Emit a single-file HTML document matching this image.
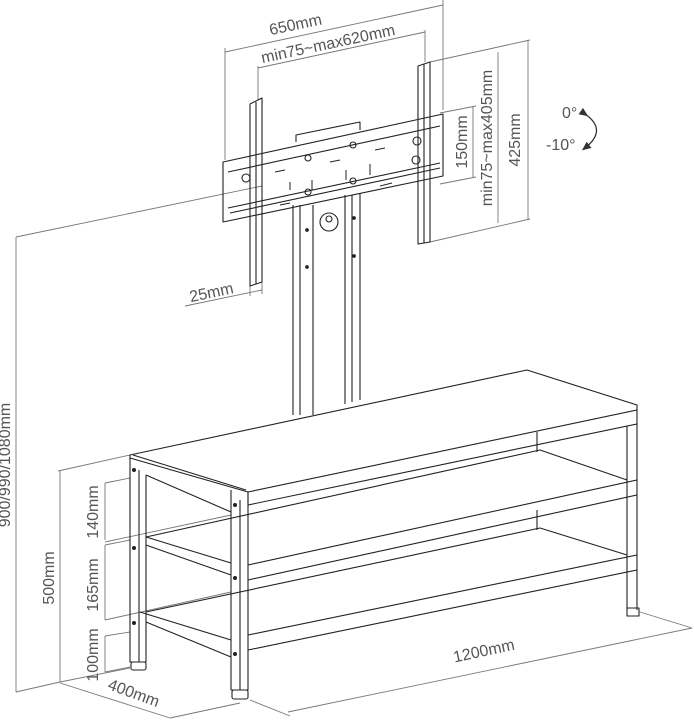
<!DOCTYPE html>
<html><head><meta charset="utf-8"><style>
html,body{margin:0;padding:0;background:#fff}
svg{display:block}
text{font-family:"Liberation Sans",sans-serif;font-size:16px;fill:#555}
</style></head><body>
<svg width="694" height="720" viewBox="0 0 694 720" xmlns="http://www.w3.org/2000/svg">
<defs>
<marker id="ah" markerWidth="8" markerHeight="8" refX="4" refY="4" orient="auto"><path d="M0,1 L7,4 L0,7 z" fill="#333"/></marker>
</defs>
<g stroke="#777" stroke-width="0.9" fill="none">
<line x1="225" y1="160" x2="225" y2="48"/><line x1="443" y1="110" x2="443" y2="0"/>
<line x1="225" y1="52" x2="443" y2="5"/>
<line x1="258" y1="100" x2="258" y2="66"/><line x1="425" y1="62" x2="425" y2="30"/>
<line x1="258" y1="68" x2="425" y2="32"/>
<line x1="430" y1="62" x2="530" y2="40"/><line x1="430" y1="242" x2="530" y2="219"/>
<line x1="528" y1="41" x2="528" y2="220"/>
<line x1="498" y1="52" x2="498" y2="223"/>
<line x1="440" y1="113" x2="476" y2="106"/><line x1="440" y1="184" x2="476" y2="177"/>
<line x1="473" y1="107" x2="473" y2="177"/>
<line x1="185" y1="306" x2="262" y2="290"/><line x1="250" y1="280" x2="250" y2="296"/><line x1="262" y1="280" x2="262" y2="294"/>
<line x1="16" y1="237" x2="16" y2="692"/><line x1="16" y1="237" x2="262" y2="186"/>
<line x1="16" y1="692" x2="60" y2="682"/>
<line x1="60" y1="471" x2="60" y2="682"/><line x1="58" y1="471" x2="130" y2="455"/><line x1="60" y1="682" x2="130" y2="668"/>
<line x1="105" y1="483" x2="105" y2="540"/><line x1="105" y1="545" x2="105" y2="620"/><line x1="105" y1="636" x2="105" y2="672"/>
<line x1="105" y1="483" x2="130" y2="478"/><line x1="105" y1="542" x2="231" y2="515"/><line x1="105" y1="545" x2="130" y2="540"/>
<line x1="105" y1="620" x2="231" y2="592"/><line x1="105" y1="636" x2="130" y2="632"/><line x1="105" y1="672" x2="130" y2="667"/>
<line x1="60" y1="683" x2="170" y2="718"/><line x1="170" y1="718" x2="240" y2="703"/>
<line x1="250" y1="700" x2="290" y2="716"/><line x1="288" y1="712" x2="692" y2="628"/><line x1="640" y1="612" x2="692" y2="628"/>
</g>
<path d="M585,114 Q608,130 585,148" stroke="#333" stroke-width="1.3" fill="none" marker-start="url(#ah)" marker-end="url(#ah)"/>
<g stroke="#222" stroke-width="1.1" fill="none" stroke-linejoin="round">
<line x1="293" y1="205" x2="293" y2="415"/><line x1="300" y1="205" x2="300" y2="415"/><line x1="313" y1="205" x2="313" y2="415"/>
<line x1="345" y1="195" x2="345" y2="404"/><line x1="352" y1="195" x2="352" y2="402"/><line x1="360" y1="193" x2="360" y2="400"/>
<circle cx="329" cy="222" r="9"/><circle cx="329" cy="219" r="3"/>
<circle cx="307" cy="230" r="1.3" fill="#222"/><circle cx="354" cy="218" r="1.3" fill="#222"/><circle cx="307" cy="267" r="1.3" fill="#222"/><circle cx="354" cy="256" r="1.3" fill="#222"/>
<path d="M223,162 L443,114 L443,176 L223,222 z"/>
<path d="M228,172 L440,126"/><path d="M228,208 L440,163"/><path d="M230,213 L440,168"/>
<path d="M296,142 L296,135 L360,122 L360,130"/>
<g stroke-width="1">
<line x1="290" y1="182" x2="290" y2="190"/><line x1="312" y1="180" x2="312" y2="190"/><line x1="346" y1="170" x2="346" y2="180"/><line x1="370" y1="164" x2="370" y2="175"/>
<line x1="275" y1="172" x2="285" y2="170"/><line x1="375" y1="150" x2="385" y2="148"/><line x1="330" y1="162" x2="340" y2="160"/><line x1="280" y1="205" x2="290" y2="203"/><line x1="380" y1="186" x2="392" y2="183"/>
</g>
<circle cx="308" cy="158" r="3"/><circle cx="353" cy="145" r="3"/><circle cx="308" cy="192" r="3"/><circle cx="353" cy="181" r="3"/>
<circle cx="246" cy="178" r="4"/><circle cx="417" cy="141" r="4"/><circle cx="416" cy="160" r="4"/>
<path d="M250,104 L262,98 L262,282 L250,286 z"/><line x1="256" y1="102" x2="256" y2="284"/>
<path d="M418,66 L430,62 L430,242 L418,244 z"/><line x1="424" y1="64" x2="424" y2="243"/>
<path d="M130,455 L527,370 L637,405 L637,410 L248,492 L130,458"/>
<path d="M133,455 L246,490"/>
<line x1="248" y1="492" x2="248" y2="505"/><line x1="248" y1="505" x2="637" y2="424"/>
<line x1="637" y1="410" x2="637" y2="610"/><line x1="627" y1="426" x2="627" y2="610"/>
<rect x="627" y="608" width="12" height="8"/>
<path d="M130,455 L130,662 L146,662 L146,475"/><line x1="139" y1="470" x2="139" y2="662"/>
<rect x="131" y="662" width="15" height="8" rx="2"/>
<path d="M231,490 L231,690 L248,690 L248,492"/><line x1="240" y1="500" x2="240" y2="690"/>
<rect x="232" y="690" width="16" height="9" rx="2"/>
<path d="M146,475 L231,512"/><path d="M140,612 L231,640"/><path d="M146,622 L231,657"/>
<path d="M146,537 L231,563"/><path d="M146,545 L231,575"/>
<path d="M248,565 L637,480"/><path d="M248,580 L637,495"/>
<path d="M248,635 L637,555"/><path d="M248,650 L637,570"/>
<path d="M146,537 L540,450 L627,480"/><path d="M146,612 L540,528 L627,555"/>
<line x1="537" y1="432" x2="537" y2="452"/><line x1="537" y1="510" x2="537" y2="530"/>
</g>
<g fill="#222">
<circle cx="134" cy="470" r="2"/><circle cx="235" cy="505" r="2"/><circle cx="134" cy="548" r="2"/><circle cx="235" cy="578" r="2"/><circle cx="134" cy="623" r="2"/><circle cx="235" cy="654" r="2"/>
</g>
<text x="270" y="29" transform="rotate(-12 300 30)">650mm</text>
<text x="262" y="51" transform="rotate(-12 320 55)">min75~max620mm</text>
<text transform="translate(520 140) rotate(-90)" text-anchor="middle">425mm</text>
<text transform="translate(492 138) rotate(-90)" text-anchor="middle">min75~max405mm</text>
<text transform="translate(467 142) rotate(-90)" text-anchor="middle">150mm</text>
<text x="190" y="297" transform="rotate(-12 215 296)">25mm</text>
<text x="562" y="118">0°</text>
<text x="546" y="150">-10°</text>
<text transform="translate(10 465) rotate(-90)" text-anchor="middle">900/990/1080mm</text>
<text transform="translate(54 578) rotate(-90)" text-anchor="middle">500mm</text>
<text transform="translate(98 512) rotate(-90)" text-anchor="middle">140mm</text>
<text transform="translate(98 585) rotate(-90)" text-anchor="middle">165mm</text>
<text transform="translate(98 655) rotate(-90)" text-anchor="middle">100mm</text>
<text transform="translate(132 698) rotate(20)" text-anchor="middle">400mm</text>
<text transform="translate(485 656) rotate(-12)" text-anchor="middle">1200mm</text>
</svg>
</body></html>
